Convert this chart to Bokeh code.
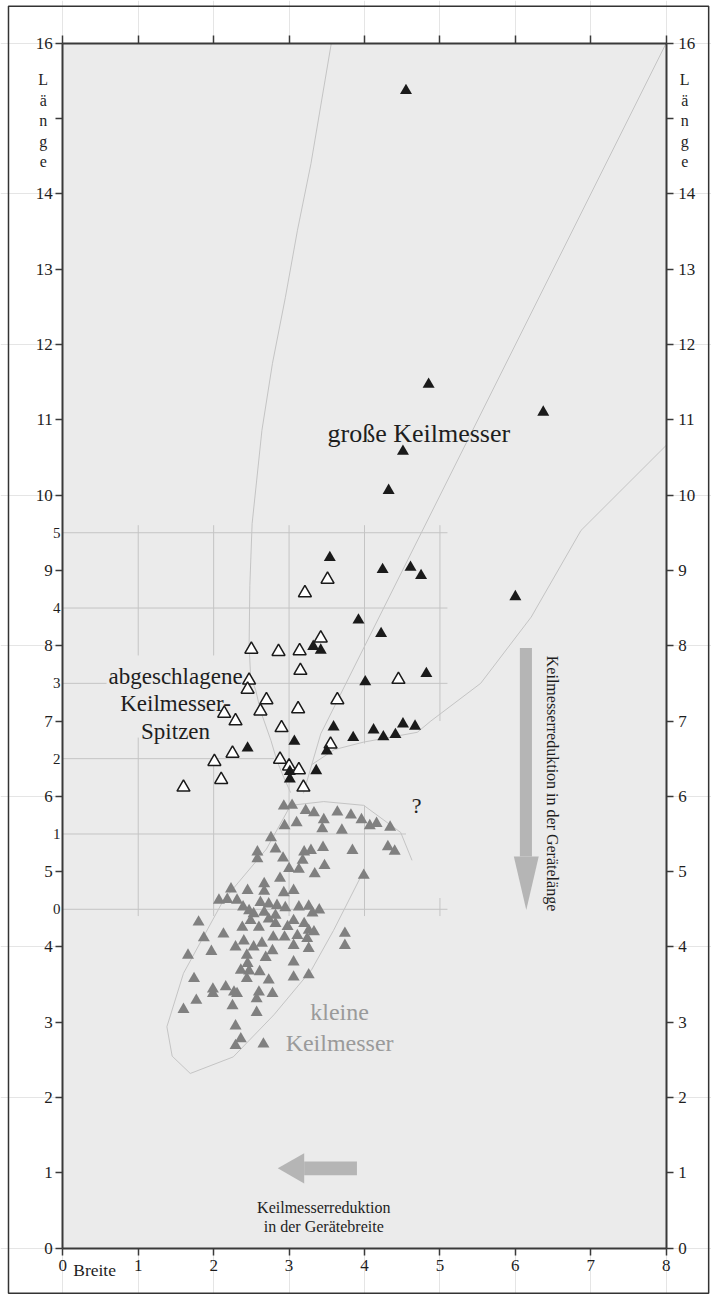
from bokeh.plotting import figure
from bokeh.models import Range1d, LinearAxis, FixedTicker, Label
from bokeh.embed import file_html
from bokeh.resources import INLINE

# ---------------- data ----------------
gross_x = [4.55, 4.85, 4.51, 4.32, 3.54, 4.24, 4.61, 4.75, 6.00, 3.92, 4.22, 3.32, 3.42, 4.01,
           4.82, 3.59, 3.07, 2.45, 3.50, 3.36, 3.01, 3.01, 3.85, 4.12, 4.25, 4.41, 4.51, 4.67, 6.37]
gross_y = [15.37, 11.47, 10.58, 10.06, 9.17, 9.01, 9.04, 8.93, 8.65, 8.34, 8.16, 7.99, 7.94, 7.52,
           7.63, 6.92, 6.73, 6.64, 6.60, 6.34, 6.33, 6.23, 6.78, 6.88, 6.79, 6.82, 6.96, 6.93, 11.10]

spitzen_x = [3.51, 3.21, 3.42, 2.50, 2.86, 3.14, 3.15, 2.47, 2.45, 2.70, 2.62, 2.14, 2.29, 3.12,
             3.64, 2.90, 3.55, 2.25, 2.01, 2.88, 3.00, 3.13, 2.10, 3.19, 1.60, 4.45]
spitzen_y = [8.88, 8.70, 8.10, 7.95, 7.92, 7.93, 7.67, 7.54, 7.42, 7.28, 7.13, 7.10, 7.00, 7.16,
             7.28, 6.91, 6.69, 6.57, 6.46, 6.49, 6.40, 6.35, 6.22, 6.12, 6.12, 7.55]

klein_x = [2.93, 3.04, 3.22, 3.33, 3.64, 3.82, 3.96, 4.07, 4.16, 4.34, 2.94, 3.10, 3.46, 3.44, 3.70,
           2.76, 2.82, 2.58, 2.58, 2.92, 3.20, 3.29, 3.45, 3.84, 4.31, 4.40, 3.18, 3.47, 3.00, 3.13,
           3.34, 3.99, 2.88, 2.67, 2.23, 2.45, 2.67, 2.93, 3.06, 2.07, 2.18, 2.31, 2.39, 2.47, 2.62,
           2.73, 2.84, 2.95, 3.13, 3.26, 3.40, 3.31, 2.53, 2.67, 2.82, 1.80, 2.13, 1.87, 2.38, 2.49,
           2.60, 2.73, 2.82, 2.98, 3.06, 3.20, 3.33, 3.26, 2.79, 2.94, 3.11, 3.24, 3.74, 3.74, 1.97,
           2.29, 2.40, 2.53, 2.64, 2.78, 3.06, 3.26, 1.66, 2.44, 2.45, 2.69, 3.06, 2.36, 2.47, 2.61,
           3.26, 1.74, 2.44, 2.73, 3.06, 1.99, 2.16, 1.99, 2.27, 2.31, 2.60, 2.57, 2.78, 1.77, 1.60,
           2.25, 2.57, 2.29, 2.36, 2.29, 2.66]
klein_y = [5.87, 5.88, 5.81, 5.78, 5.79, 5.75, 5.69, 5.61, 5.64, 5.59, 5.61, 5.65, 5.69, 5.57, 5.55,
           5.45, 5.30, 5.26, 5.17, 5.18, 5.26, 5.28, 5.32, 5.28, 5.33, 5.27, 5.15, 5.08, 5.04, 5.03,
           4.97, 4.95, 4.91, 4.84, 4.77, 4.75, 4.74, 4.72, 4.75, 4.62, 4.63, 4.62, 4.53, 4.48, 4.59,
           4.57, 4.55, 4.52, 4.53, 4.54, 4.49, 4.45, 4.44, 4.46, 4.42, 4.33, 4.17, 4.12, 4.26, 4.35,
           4.26, 4.37, 4.31, 4.27, 4.35, 4.31, 4.20, 4.22, 4.13, 4.13, 4.15, 4.11, 4.18, 4.02, 3.94,
           4.00, 4.08, 4.00, 4.05, 3.95, 4.02, 3.98, 3.89, 3.89, 3.78, 3.86, 3.80, 3.69, 3.68, 3.67,
           3.63, 3.58, 3.58, 3.56, 3.60, 3.44, 3.47, 3.38, 3.40, 3.38, 3.40, 3.31, 3.38, 3.29, 3.17,
           3.22, 3.13, 2.95, 2.78, 2.69, 2.71]

x_ticks = [0, 1, 2, 3, 4, 5, 6, 7, 8]
y_ticks = [0, 1, 2, 3, 4, 5, 6, 7, 8, 9, 10, 11, 12, 13, 14, 16]
y_unlabeled_ticks = [15]
inner_ticks = [4.5, 5.5, 6.5, 7.5, 8.5, 9.5]
inner_labels = ["0", "1", "2", "3", "4", "5"]
laenge_letters = ["L", "ä", "n", "g", "e"]
laenge_pos = [15.513, 15.241, 14.968, 14.696, 14.424]

# inner grid pieces (rows: y, x-start, x-end; columns: x, y-start, y-end)
grid_rows_y = [4.5, 5.5, 6.5, 7.5, 7.5, 8.5, 9.5]
grid_rows_x0 = [0, 0, 0, 0, 2.56, 0, 0]
grid_rows_x1 = [5.1, 4.55, 2.8, 0.58, 5.1, 5.1, 5.1]
grid_cols_x = [1, 1, 2, 2, 3, 4, 4, 5, 5]
grid_cols_y0 = [4.41, 7.87, 4.41, 7.87, 4.41, 4.41, 6.7, 4.41, 7.0]
grid_cols_y1 = [6.78, 9.6, 6.51, 9.6, 9.6, 5.88, 9.6, 4.65, 9.6]

# guide curves
curve_a_x = [3.56, 3.29, 3.11, 2.95, 2.78, 2.64, 2.51, 2.48, 2.47, 2.49, 2.56, 2.62, 2.76, 2.84, 2.93, 3.02]
curve_a_y = [16.0, 14.4, 13.51, 12.62, 11.75, 10.86, 9.62, 8.8, 8.0, 7.6, 7.4, 7.14, 6.74, 6.47, 6.25, 6.05]
curve_b_x = [8.0, 3.42, 3.19]
curve_b_y = [16.0, 6.83, 6.04]
curve_d_x = [8.0, 6.87, 6.21, 5.54, 4.88, 4.70, 3.99, 3.6, 3.3]
curve_d_y = [10.66, 9.53, 8.38, 7.50, 7.0, 6.85, 6.72, 6.62, 6.42]
curve_e_x = [4.63, 4.48, 3.99, 3.46, 3.02, 2.7, 2.13, 1.6, 1.38, 1.45, 1.69, 2.26, 2.8, 3.3, 3.59, 3.99]
curve_e_y = [5.15, 5.52, 5.88, 5.93, 5.88, 5.3, 4.62, 3.65, 2.94, 2.55, 2.32, 2.54, 3.1, 3.7, 4.22, 5.01]

# arrows
arrow_v_shaft = dict(left=6.06, right=6.22, top=7.97, bottom=5.20)
arrow_v_head_x = [5.98, 6.31, 6.145]
arrow_v_head_y = [5.20, 5.20, 4.49]
arrow_h_shaft = dict(left=3.2, right=3.9, top=1.15, bottom=0.97)
arrow_h_head_x = [3.2, 3.2, 2.85]
arrow_h_head_y = [1.26, 0.86, 1.06]

SERIF = "Liberation Serif"
AX = "#3a3a3a"
TXT = "#1e1e1e"
BG = "#ebebeb"

# frame covers the whole canvas; axes are drawn at fixed data locations
p = figure(width=711, height=1294, x_range=Range1d(-0.826, 8.6006), y_range=Range1d(-0.615, 16.567),
           output_backend="svg", toolbar_location=None, x_axis_location=None, y_axis_location=None,
           min_border=0, min_border_left=0, min_border_right=0, min_border_top=0, min_border_bottom=0,
           background_fill_color="white", border_fill_color="white")
p.outline_line_color = None

# plotting area and outer frame
p.quad(left=[0], right=[8], bottom=[0], top=[16], fill_color=BG, line_color=None)
p.quad(left=[-0.72], right=[8.563], bottom=[-0.598], top=[16.49], fill_color=None,
       line_color="#333333", line_width=1.5)


def style_axis(ax, ticks, minor, bounds):
    ax.ticker = FixedTicker(ticks=ticks, minor_ticks=minor)
    ax.bounds = bounds
    ax.axis_line_width = 2
    ax.axis_line_color = AX
    ax.major_tick_line_color = AX
    ax.major_tick_line_width = 1.5
    ax.major_tick_in = 0
    ax.major_tick_out = 7
    ax.minor_tick_line_color = AX
    ax.minor_tick_line_width = 1.5
    ax.minor_tick_in = 0
    ax.minor_tick_out = 7
    ax.major_label_text_font = SERIF
    ax.major_label_text_font_size = "17px"
    ax.major_label_text_color = TXT


ax_b = LinearAxis(fixed_location=0)
style_axis(ax_b, x_ticks, [], (0, 8))
ax_b.major_label_standoff = 5
p.add_layout(ax_b, "below")

ax_t = LinearAxis(fixed_location=16)
style_axis(ax_t, [], x_ticks, (0, 8))
ax_t.minor_tick_out = 8
p.add_layout(ax_t, "above")

ax_l = LinearAxis(fixed_location=0)
style_axis(ax_l, y_ticks, y_unlabeled_ticks, (0, 16))
ax_l.major_label_standoff = 3
p.add_layout(ax_l, "left")

ax_r = LinearAxis(fixed_location=8)
style_axis(ax_r, y_ticks, y_unlabeled_ticks, (0, 16))
ax_r.major_label_standoff = 5
p.add_layout(ax_r, "right")

# inner grid
GRID = "#c4c4c4"
p.segment(x0=grid_rows_x0, y0=grid_rows_y, x1=grid_rows_x1, y1=grid_rows_y,
          line_color=GRID, line_width=1)
p.segment(x0=grid_cols_x, y0=grid_cols_y0, x1=grid_cols_x, y1=grid_cols_y1,
          line_color=GRID, line_width=1)

# curves
CUR = "#c4c4c4"
for cx, cy in [(curve_a_x, curve_a_y), (curve_b_x, curve_b_y), (curve_d_x, curve_d_y), (curve_e_x, curve_e_y)]:
    p.line(cx, cy, line_color=CUR, line_width=1)

# arrows
ARR = "#b5b5b5"
p.quad(line_color=None, fill_color=ARR, **{k: [v] for k, v in arrow_v_shaft.items()})
p.patch(arrow_v_head_x, arrow_v_head_y, fill_color=ARR, line_color=None)
p.quad(line_color=None, fill_color=ARR, **{k: [v] for k, v in arrow_h_shaft.items()})
p.patch(arrow_h_head_x, arrow_h_head_y, fill_color=ARR, line_color=None)

# markers
p.scatter(klein_x, klein_y, marker="triangle", size=12, fill_color="#808080", line_color=None)
p.scatter(spitzen_x, spitzen_y, marker="triangle", size=13, fill_color="white", line_color="#1a1a1a", line_width=1.5)
p.scatter(gross_x, gross_y, marker="triangle", size=12, fill_color="#1a1a1a", line_color=None)


def lab(text, x, y, size, color=TXT, align="center", baseline="alphabetic", angle=0):
    p.add_layout(Label(x=x, y=y, text=text, text_font=SERIF, text_font_size=size, text_color=color,
                       text_align=align, text_baseline=baseline, angle=angle))


lab("abgeschlagene", 1.495, 7.59, "23px")
lab("Keilmesser-", 1.495, 7.23, "23px")
lab("Spitzen", 1.495, 6.86, "23px")
lab("große Keilmesser", 4.72, 10.815, "26px")
lab("kleine", 3.67, 3.13, "24px", color="#9a9a9a")
lab("Keilmesser", 3.67, 2.72, "24px", color="#9a9a9a")
lab("?", 4.69, 5.88, "22px")
lab("Keilmesserreduktion in der Gerätelänge", 6.49, 6.17, "16px", baseline="middle", angle=-1.5707963)
lab("Keilmesserreduktion", 3.46, 0.54, "16px")
lab("in der Gerätebreite", 3.46, 0.29, "16px")

# texts beside the axes
for yv, t in zip(inner_ticks, inner_labels):
    lab(t, -0.03, yv, "15px", align="right", baseline="middle")
lab("Breite", 0.138, -0.29, "17.5px", align="left", baseline="middle")
for yv, t in zip(laenge_pos, laenge_letters):
    lab(t, -0.26, yv, "16px", baseline="middle")
    lab(t, 8.245, yv, "16px", baseline="middle")

open("out.html", "w").write(file_html(p, INLINE))
